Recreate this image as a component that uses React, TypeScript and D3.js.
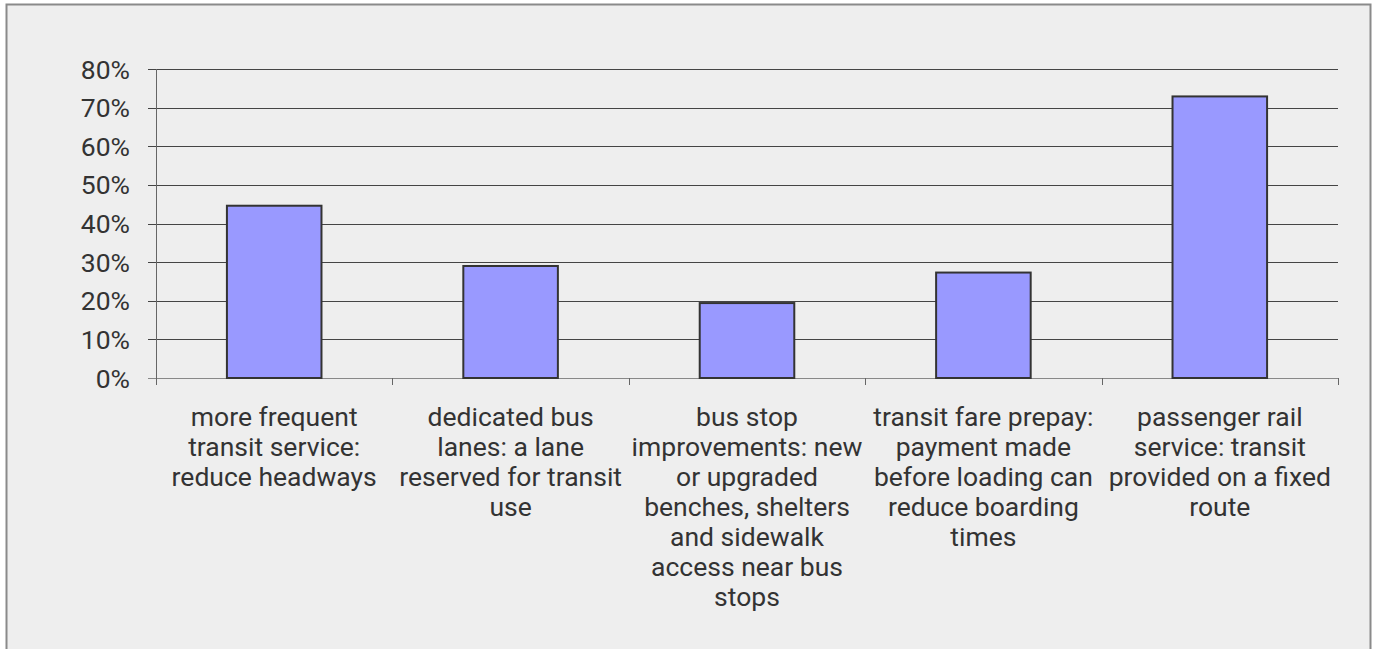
import React from "react";
import * as d3 from "d3";

const categories = [
  "more frequent transit service: reduce headways",
  "dedicated bus lanes: a lane reserved for transit use",
  "bus stop improvements: new or upgraded benches, shelters and sidewalk access near bus stops",
  "transit fare prepay: payment made before loading can reduce boarding times",
  "passenger rail service: transit provided on a fixed route",
];
const categoryLines = [
  ["more frequent", "transit service:", "reduce headways"],
  ["dedicated bus", "lanes: a lane", "reserved for transit", "use"],
  ["bus stop", "improvements: new", "or upgraded", "benches, shelters", "and sidewalk", "access near bus", "stops"],
  ["transit fare prepay:", "payment made", "before loading can", "reduce boarding", "times"],
  ["passenger rail", "service: transit", "provided on a fixed", "route"],
];
const values = [0.446, 0.29, 0.194, 0.273, 0.729];
const yTicks = [0, 0.1, 0.2, 0.3, 0.4, 0.5, 0.6, 0.7, 0.8];

const W = 1375;
const H = 649;
const left = 156;
const right = 1338;
const top = 69;
const bottom = 378;
const FONT = "Roboto, 'Liberation Sans', sans-serif";
const FS = 26.5;

export default function App() {
  const x = d3.scaleBand<string>().domain(categories).range([left, right]).paddingInner(0).paddingOuter(0);
  const y = d3.scaleLinear().domain([0, 0.8]).range([bottom, top]);
  const bw = x.bandwidth() * 0.4;
  const fmt = d3.format(".0%");
  const boundaries = [...categories.map((c) => x(c)!), right];

  return (
    <svg width={W} height={H} style={{ position: "absolute", left: 0, top: 0, display: "block" }}>
      <rect x={0} y={0} width={W} height={H} fill="#ffffff" />
      <rect x={6.5} y={4.5} width={1364} height={H + 10} fill="#eeeeee" stroke="#8a8a8a" strokeWidth={2} />
      {yTicks.map((t) => (
        <g key={t}>
          <line x1={148} x2={right} y1={Math.round(y(t)) + 0.5} y2={Math.round(y(t)) + 0.5} stroke={t === 0 ? "#888" : "#444"} strokeWidth={1} />
          <text x={130} y={y(t)} dy="0.36em" textAnchor="end" fontFamily={FONT} fontSize={FS} fill="#333">
            {fmt(t)}
          </text>
        </g>
      ))}
      <line x1={left + 0.5} x2={left + 0.5} y1={top} y2={bottom + 7} stroke="#666" strokeWidth={1} />
      {boundaries.slice(1).map((b, i) => (
        <line key={i} x1={Math.round(b) + 0.5} x2={Math.round(b) + 0.5} y1={bottom} y2={bottom + 7} stroke="#666" strokeWidth={1} />
      ))}
      {categories.map((c, i) => {
        const cx = x(c)! + x.bandwidth() / 2;
        return (
          <rect
            key={c}
            x={cx - bw / 2}
            y={y(values[i])}
            width={bw}
            height={bottom - y(values[i])}
            fill="#9999ff"
            stroke="#333"
            strokeWidth={2}
          />
        );
      })}
      {categories.map((c, i) => {
        const cx = x(c)! + x.bandwidth() / 2;
        return (
          <text key={c} textAnchor="middle" fontFamily={FONT} fontSize={FS} fill="#333">
            {categoryLines[i].map((ln, j) => (
              <tspan key={j} x={cx} y={426 + j * 30}>
                {ln}
              </tspan>
            ))}
          </text>
        );
      })}
    </svg>
  );
}
